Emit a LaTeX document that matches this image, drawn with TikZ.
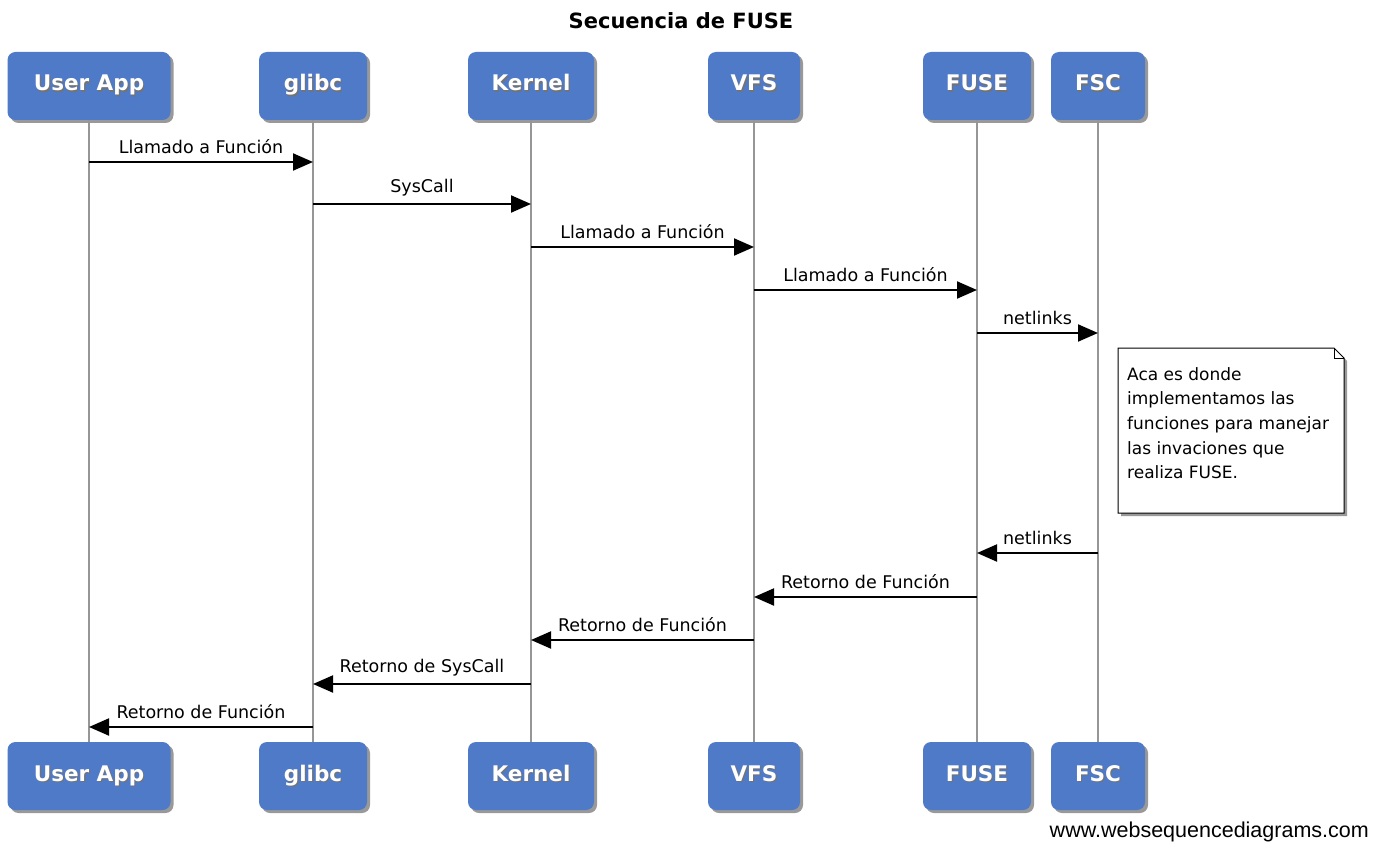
\documentclass[tikz,border=0pt]{standalone}
\usepackage{fontspec}
\setmainfont{DejaVu Sans}
\newfontfamily\wmfont{Liberation Sans}
\usetikzlibrary{arrows.meta,shadows}
\definecolor{actorblue}{RGB}{79,122,199}
\definecolor{lifegray}{RGB}{150,150,150}
% white label with a soft dark shadow behind it
\newcommand{\shadowed}[1]{\rlap{\kern1.2pt\raisebox{-1.2pt}{\color{black!55}#1}}#1}
\tikzset{
  actor/.style={draw=none, fill=actorblue, rounded corners=8pt, minimum height=68pt,
    inner sep=0pt, text=white, font=\bfseries\fontsize{21.5}{24}\selectfont,
    text height=15pt, text depth=5pt,
    drop shadow={shadow xshift=3pt, shadow yshift=-3pt, opacity=0.4, fill=black}},
  lifeline/.style={draw=lifegray, line width=2pt},
  msg/.style={draw=black, line width=2pt, -{Triangle[length=20pt,width=17pt]}},
  msglabel/.style={font=\fontsize{17.5}{20}\selectfont, inner sep=0pt, anchor=base},
  notebox/.style={draw=black, line width=1pt, fill=white,
    drop shadow={shadow xshift=3pt, shadow yshift=-3pt, opacity=0.4, fill=black}},
}
\begin{document}
\begin{tikzpicture}[x=1pt,y=-1pt]
  \useasboundingbox (0,0) rectangle (1387,845);
  \fill[white] (0,0) rectangle (1387,845);

  % title
  \node[font=\bfseries\fontsize{21}{24}\selectfont] (title) at (681,21) {Secuencia de FUSE};

  % participants, top row
  \node[actor, minimum width=163pt] (ua)   at (89,86)   {\shadowed{User App}};
  \node[actor, minimum width=108pt] (gl)   at (313,86)  {\shadowed{glibc}};
  \node[actor, minimum width=126pt] (kn)   at (531,86)  {\shadowed{Kernel}};
  \node[actor, minimum width=92pt]  (vfs)  at (754,86)  {\shadowed{VFS}};
  \node[actor, minimum width=108pt] (fuse) at (977,86)  {\shadowed{FUSE}};
  \node[actor, minimum width=94pt]  (fsc)  at (1098,86) {\shadowed{FSC}};

  % participants, bottom row
  \node[actor, minimum width=163pt] (ua2)   at (89,776)   {\shadowed{User App}};
  \node[actor, minimum width=108pt] (gl2)   at (313,776)  {\shadowed{glibc}};
  \node[actor, minimum width=126pt] (kn2)   at (531,776)  {\shadowed{Kernel}};
  \node[actor, minimum width=92pt]  (vfs2)  at (754,776)  {\shadowed{VFS}};
  \node[actor, minimum width=108pt] (fuse2) at (977,776)  {\shadowed{FUSE}};
  \node[actor, minimum width=94pt]  (fsc2)  at (1098,776) {\shadowed{FSC}};

  % lifelines
  \draw[lifeline] (ua.south)   -- (ua2.north);
  \draw[lifeline] (gl.south)   -- (gl2.north);
  \draw[lifeline] (kn.south)   -- (kn2.north);
  \draw[lifeline] (vfs.south)  -- (vfs2.north);
  \draw[lifeline] (fuse.south) -- (fuse2.north);
  \draw[lifeline] (fsc.south)  -- (fsc2.north);

  % message levels
  \coordinate (r1) at (0,162);
  \coordinate (r2) at (0,204);
  \coordinate (r3) at (0,247);
  \coordinate (r4) at (0,290);
  \coordinate (r5) at (0,333);
  \coordinate (r6) at (0,553);
  \coordinate (r7) at (0,597);
  \coordinate (r8) at (0,640);
  \coordinate (r9) at (0,684);
  \coordinate (r10) at (0,727);

  % calls
  \draw[msg] (ua |- r1) -- node[msglabel, above=7pt] (l1) {Llamado a Función} (gl |- r1);
  \draw[msg] (gl |- r2) -- node[msglabel, above=7pt] (l2) {SysCall} (kn |- r2);
  \draw[msg] (kn |- r3) -- node[msglabel, above=7pt] (l3) {Llamado a Función} (vfs |- r3);
  \draw[msg] (vfs |- r4) -- node[msglabel, above=7pt] (l4) {Llamado a Función} (fuse |- r4);
  \draw[msg] (fuse |- r5) -- node[msglabel, above=7pt] (l5) {netlinks} (fsc |- r5);

  % returns
  \draw[msg] (fsc |- r6) -- node[msglabel, above=7pt] (l6) {netlinks} (fuse |- r6);
  \draw[msg] (fuse |- r7) -- node[msglabel, above=7pt] (l7) {Retorno de Función} (vfs |- r7);
  \draw[msg] (vfs |- r8) -- node[msglabel, above=7pt] (l8) {Retorno de Función} (kn |- r8);
  \draw[msg] (kn |- r9) -- node[msglabel, above=7pt] (l9) {Retorno de SysCall} (gl |- r9);
  \draw[msg] (gl |- r10) -- node[msglabel, above=7pt] (l10) {Retorno de Función} (ua |- r10);

  % note beside FSC
  \path[notebox] (1118,348) -- (1334,348) -- (1344,358) -- (1344,513) -- (1118,513) -- cycle;
  \draw[line width=1pt] (1334,348) -- (1334,358) -- (1344,358);
  \node[anchor=north west, align=left, inner sep=0pt,
        font=\fontsize{17}{24.7}\selectfont] (note) at (1127,367)
    {Aca es donde\\implementamos las\\funciones para manejar\\las invaciones que\\realiza FUSE.};

  % watermark
  \node[anchor=base east, inner sep=0pt, font=\wmfont\fontsize{21.5}{24}\selectfont] (wm)
    at (1369,837) {www.websequencediagrams.com};
\end{tikzpicture}
\end{document}
